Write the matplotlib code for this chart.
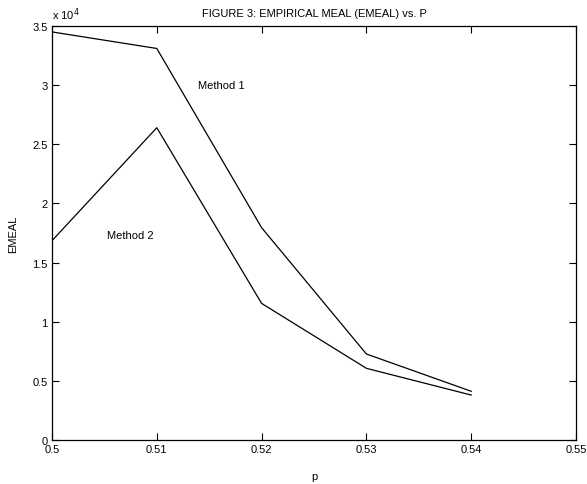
import numpy as np
import matplotlib
matplotlib.use("Agg")
import matplotlib.pyplot as plt
from matplotlib.ticker import FuncFormatter

plt.rcParams['font.family'] = ['Liberation Sans', 'DejaVu Sans']

p = [0.50, 0.51, 0.52, 0.53, 0.54]
emeal_m1 = [34500, 33100, 17950, 7270, 4120]
emeal_m2 = [16850, 26400, 11550, 6060, 3800]

fig = plt.figure(figsize=(5.87, 4.85), dpi=100)
ax = fig.add_axes([52/587, 44/485, 524/587, 414/485])

ax.plot(p, emeal_m1, color='black', lw=0.9)
ax.plot(p, emeal_m2, color='black', lw=0.9)

ax.text(0.5162, 30000, 'Method 1', fontsize=8, ha='center', va='center')
ax.text(0.5075, 17300, 'Method 2', fontsize=8, ha='center', va='center')

ax.set_xlim(0.5, 0.55)
ax.set_ylim(0, 35000)
ax.set_xticks([0.5, 0.51, 0.52, 0.53, 0.54, 0.55])
ax.set_xticklabels(['0.5', '0.51', '0.52', '0.53', '0.54', '0.55'])
ax.set_yticks(np.arange(0, 35001, 5000))
ax.yaxis.set_major_formatter(FuncFormatter(lambda v, pos: '%g' % (v / 1e4)))
ax.tick_params(direction='in', top=True, right=True, length=5, width=0.8,
               labelsize=8, pad=3)
for s in ax.spines.values():
    s.set_linewidth(0.9)

ax.text(0.0, 1.01, 'x 10$^4$', transform=ax.transAxes, fontsize=8,
        ha='left', va='bottom')
ax.set_title('FIGURE 3: EMPIRICAL MEAL (EMEAL) vs. P', fontsize=8, pad=7)
ax.set_xlabel('p', fontsize=8, labelpad=12)
ax.set_ylabel('EMEAL', fontsize=8, labelpad=10)

fig.savefig('out.png', dpi=100)
